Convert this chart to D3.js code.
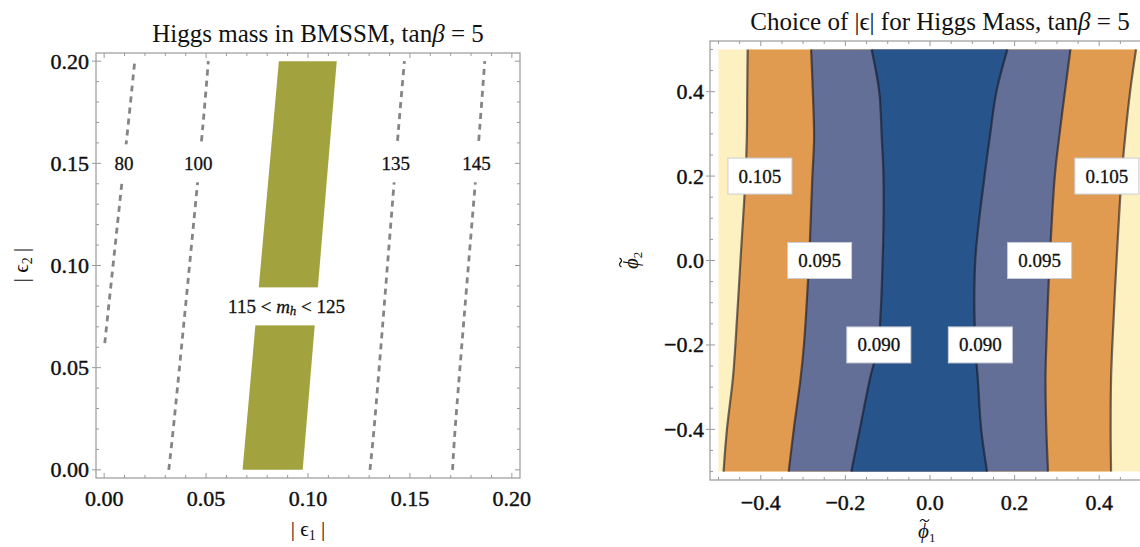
<!DOCTYPE html>
<html>
<head>
<meta charset="utf-8">
<script src="https://cdn.jsdelivr.net/npm/d3@7"></script>
<style>
body { margin: 0; background: #fff; }
svg { display: block; overflow: hidden; }
.title { font-family: "Liberation Serif", serif; font-size: 25px; fill: #111; }
.tick-label { font-family: "Liberation Serif", serif; font-size: 22px; fill: #111; stroke: #111; stroke-width: 0.45; }
.axis-label { font-family: "Liberation Serif", serif; font-size: 21px; fill: #111; }
.contour-label { font-family: "Liberation Serif", serif; font-size: 19px; fill: #111; stroke: #111; stroke-width: 0.3; }
.frame { fill: none; stroke: #9a9a9a; stroke-width: 1.2; }
.tick { stroke: #9a9a9a; stroke-width: 1; }
</style>
</head>
<body>
<div id="chart"></div>
<script>
// ---------- datos panel izquierdo: |eps1| vs |eps2| ----------
const massLevels = ["80", "100", "135", "145"]
// cada contorno: pares [|eps1|, |eps2|]
const contour80 = [[0.0003, 0.062], [0.0087, 0.1405], [0.0117, 0.168], [0.0150, 0.200]]
const contour100 = [[0.0317, 0.0], [0.0338, 0.019], [0.0484, 0.168], [0.0511, 0.200]]
const contour135 = [[0.1304, 0.0], [0.1323, 0.019], [0.1445, 0.168], [0.1473, 0.200]]
const contour145 = [[0.1709, 0.0], [0.1721, 0.019], [0.1843, 0.168], [0.1867, 0.200]]
const massLabelEps1 = [0.0097, 0.0462, 0.1430, 0.1827]
const massLabelEps2 = 0.150
// banda 115 < mh < 125
const band115 = [[0.0679, 0.0], [0.0857, 0.200]]
const band125 = [[0.0974, 0.0], [0.1141, 0.200]]
const bandLabel = [0.0895, 0.080]
const leftTicks = [0, 0.05, 0.10, 0.15, 0.20]
const leftMinor = [0.01, 0.02, 0.03, 0.04, 0.06, 0.07, 0.08, 0.09, 0.11, 0.12, 0.13, 0.14, 0.16, 0.17, 0.18, 0.19]

// ---------- datos panel derecho: contornos de |eps| ----------
const phi2Samples = [0.5, 0.4, 0.29, 0.2, 0.0, -0.2, -0.28, -0.4, -0.5]
const phi1Left105 = [-0.431, -0.432, -0.433, -0.436, -0.448, -0.460, -0.466, -0.480, -0.488]
const phi1Left095 = [-0.281, -0.277, -0.274, -0.278, -0.286, -0.298, -0.306, -0.322, -0.334]
const phi1Left090 = [-0.138, -0.120, -0.114, -0.110, -0.112, -0.123, -0.142, -0.166, -0.186]
const phi1Right090 = [0.183, 0.157, 0.141, 0.129, 0.107, 0.107, 0.113, 0.121, 0.135]
const phi1Right095 = [0.332, 0.319, 0.305, 0.295, 0.283, 0.275, 0.273, 0.275, 0.279]
const phi1Right105 = [0.487, 0.473, 0.461, 0.453, 0.441, 0.431, 0.428, 0.427, 0.428]
const epsLabelText = ["0.105", "0.105", "0.095", "0.095", "0.090", "0.090"]
const epsLabelPhi1 = [-0.402, 0.418, -0.261, 0.259, -0.121, 0.119]
const epsLabelPhi2 = [0.20, 0.20, 0.0, 0.0, -0.20, -0.20]
const rightTicks = [-0.4, -0.2, 0.0, 0.2, 0.4]
const rightMinor = [-0.5, -0.45, -0.35, -0.3, -0.25, -0.15, -0.1, -0.05, 0.05, 0.1, 0.15, 0.25, 0.3, 0.35, 0.45, 0.5]

const bandColors = { yellow: "#fef1c1", orange: "#e09b50", slate: "#646f97", blue: "#27548a" }

// dimensiones
const width = 1140
const height = 547

const svg = d3.select("#chart")
    .append("svg")
    .attr("width", width)
    .attr("height", height)

// ticks del marco (hacia dentro, los mayores del eje y algo hacia fuera)
function frameTicks(g, scale, values, side, pos, inLen, outLen) {
    values.forEach(v => {
        const p = scale(v)
        let x1, y1, x2, y2
        if (side === "left") { x1 = pos - outLen; x2 = pos + inLen; y1 = y2 = p }
        if (side === "right") { x1 = pos + outLen; x2 = pos - inLen; y1 = y2 = p }
        if (side === "bottom") { y1 = pos + outLen; y2 = pos - inLen; x1 = x2 = p }
        if (side === "top") { y1 = pos - outLen; y2 = pos + inLen; x1 = x2 = p }
        g.append("line").attr("class", "tick")
            .attr("x1", x1).attr("y1", y1).attr("x2", x2).attr("y2", y2)
    })
}

// φ con tilde (dibujada como trazo) y subíndice
function phiLabel(g, x, y, sub, rotate) {
    const gg = g.append("g").attr("transform", `translate(${x}, ${y})` + (rotate ? " rotate(-90)" : ""))
    const t = gg.append("text").attr("class", "axis-label")
        .attr("x", -7).attr("y", 0)
    t.append("tspan").attr("font-style", "italic").text("ϕ")
    t.append("tspan").attr("font-size", 13).attr("dy", 4).text(sub)
    gg.append("path")
        .attr("d", "M-5,-16.5 c1.5,-2.5 3,-2.5 4.5,-1 s3,1.5 4.5,-1")
        .attr("fill", "none").attr("stroke", "#111").attr("stroke-width", 1.2)
}

// ================= panel izquierdo =================
const L = { left: 96, right: 520, top: 53, bottom: 478 }
const xL = d3.scaleLinear().domain([-0.004, 0.204]).range([L.left, L.right])
const yL = d3.scaleLinear().domain([-0.004, 0.204]).range([L.bottom, L.top])
const left = svg.append("g").attr("class", "leftPanel")

// banda 115-125
const bandPoly = band115.concat(band125.slice().reverse())
left.append("path")
    .attr("d", d3.line().x(d => xL(d[0])).y(d => yL(d[1]))(bandPoly) + "Z")
    .attr("fill", "#a2a33f")

// contornos discontinuos
const massContours = [contour80, contour100, contour135, contour145]
massContours.forEach(c => {
    left.append("path")
        .attr("d", d3.line().x(d => xL(d[0])).y(d => yL(d[1])).curve(d3.curveCatmullRom)(c))
        .attr("fill", "none")
        .attr("stroke", "#858585")
        .attr("stroke-width", 2.8)
        .attr("stroke-dasharray", "6,5")
})

// etiquetas de los contornos con fondo blanco
massLevels.forEach((lab, i) => {
    const gl = left.append("g")
    const t = gl.append("text").attr("class", "contour-label")
        .attr("x", xL(massLabelEps1[i])).attr("y", yL(massLabelEps2))
        .attr("text-anchor", "middle").attr("dominant-baseline", "central")
        .text(lab)
    const w = t.node().getComputedTextLength()
    gl.insert("rect", "text")
        .attr("x", xL(massLabelEps1[i]) - w / 2 - 4).attr("y", yL(massLabelEps2) - 19)
        .attr("width", w + 8).attr("height", 38).attr("fill", "#fff")
})

const bl = left.append("g")
const bt = bl.append("text").attr("class", "contour-label")
    .attr("x", xL(bandLabel[0])).attr("y", yL(bandLabel[1]))
    .attr("text-anchor", "middle").attr("dominant-baseline", "central")
bt.append("tspan").text("115 < ")
bt.append("tspan").attr("font-style", "italic").text("m")
bt.append("tspan").attr("font-style", "italic").attr("font-size", 13).attr("dy", 4).text("h")
bt.append("tspan").attr("dy", -4).text(" < 125")
const bw = bt.node().getComputedTextLength()
bl.insert("rect", "text")
    .attr("x", xL(bandLabel[0]) - bw / 2 - 4).attr("y", yL(bandLabel[1]) - 19)
    .attr("width", bw + 8).attr("height", 38).attr("fill", "#fff")

// marco y ticks
left.append("rect").attr("class", "frame")
    .attr("x", L.left).attr("y", L.top).attr("width", L.right - L.left).attr("height", L.bottom - L.top)
frameTicks(left, xL, leftTicks, "bottom", L.bottom, 5, 0)
frameTicks(left, xL, leftMinor, "bottom", L.bottom, 3, 0)
frameTicks(left, xL, leftTicks, "top", L.top, 5, 0)
frameTicks(left, xL, leftMinor, "top", L.top, 3, 0)
frameTicks(left, yL, leftTicks, "left", L.left, 5, 4)
frameTicks(left, yL, leftMinor, "left", L.left, 3, 0)
frameTicks(left, yL, leftTicks, "right", L.right, 5, 0)
frameTicks(left, yL, leftMinor, "right", L.right, 3, 0)

const fmt2 = d3.format(".2f")
left.selectAll(".xlab").data(leftTicks).enter().append("text")
    .attr("class", "tick-label")
    .attr("x", d => xL(d)).attr("y", L.bottom + 28)
    .attr("text-anchor", "middle")
    .text(fmt2)
left.selectAll(".ylab").data(leftTicks).enter().append("text")
    .attr("class", "tick-label")
    .attr("x", L.left - 7).attr("y", d => yL(d))
    .attr("text-anchor", "end").attr("dominant-baseline", "central")
    .text(fmt2)

// títulos y ejes
const t1 = left.append("text").attr("class", "title")
    .attr("x", 318).attr("y", 42).attr("text-anchor", "middle")
t1.append("tspan").text("Higgs mass in BMSSM, tan")
t1.append("tspan").attr("font-style", "italic").text("β")
t1.append("tspan").text(" = 5")

const xlabL = left.append("text").attr("class", "axis-label")
    .attr("x", 308).attr("y", 536).attr("text-anchor", "middle")
xlabL.append("tspan").text("| ϵ")
xlabL.append("tspan").attr("font-size", 14).attr("dy", 4).text("1")
xlabL.append("tspan").attr("dy", -4).text(" |")

const ylabL = left.append("text").attr("class", "axis-label")
    .attr("transform", "translate(28, 265) rotate(-90)").attr("text-anchor", "middle")
ylabL.append("tspan").text("| ϵ")
ylabL.append("tspan").attr("font-size", 14).attr("dy", 4).text("2")
ylabL.append("tspan").attr("dy", -4).text(" |")

// ================= panel derecho =================
const R = { left: 710, right: 1150, top: 41, bottom: 480 }
const xR = d3.scaleLinear().domain([-0.52, 0.52]).range([R.left, R.right])
const yR = d3.scaleLinear().domain([-0.52, 0.52]).range([R.bottom, R.top])
const right = svg.append("g").attr("class", "rightPanel")

right.append("rect")
    .attr("x", xR(-0.5)).attr("y", yR(0.5))
    .attr("width", xR(0.5) - xR(-0.5)).attr("height", yR(-0.5) - yR(0.5))
    .attr("fill", bandColors.yellow)

const contourLine = d3.line().x(d => xR(d[0])).y(d => yR(d[1])).curve(d3.curveCatmullRom)
const pts = arr => arr.map((v, i) => [v, phi2Samples[i]])

function region(leftArr, rightArr, color) {
    const a = contourLine(pts(leftArr))
    const b = contourLine(pts(rightArr).reverse())
    right.append("path").attr("d", a + "L" + b.slice(1) + "Z").attr("fill", color)
}
region(phi1Left105, phi1Right105, bandColors.orange)
region(phi1Left095, phi1Right095, bandColors.slate)
region(phi1Left090, phi1Right090, bandColors.blue)

const epsContours = [phi1Left105, phi1Left095, phi1Left090, phi1Right090, phi1Right095, phi1Right105]
epsContours.forEach(c => {
    right.append("path")
        .attr("d", contourLine(pts(c)))
        .attr("fill", "none")
        .attr("stroke", "rgba(20,20,30,0.6)")
        .attr("stroke-width", 2.2)
})

// etiquetas en cajas blancas
epsLabelText.forEach((lab, i) => {
    const cx = xR(epsLabelPhi1[i]), cy = yR(epsLabelPhi2[i])
    right.append("rect")
        .attr("x", cx - 32).attr("y", cy - 18).attr("width", 64).attr("height", 36)
        .attr("fill", "#fff").attr("stroke", "#c9cdd8").attr("stroke-width", 1)
    right.append("text").attr("class", "contour-label")
        .attr("x", cx).attr("y", cy)
        .attr("text-anchor", "middle").attr("dominant-baseline", "central")
        .text(lab)
})

// marco (el borde derecho queda fuera de la imagen)
right.append("rect").attr("class", "frame")
    .attr("x", R.left).attr("y", R.top).attr("width", R.right - R.left).attr("height", R.bottom - R.top)
frameTicks(right, xR, rightTicks, "bottom", R.bottom, 5, 0)
frameTicks(right, xR, rightMinor, "bottom", R.bottom, 3, 0)
frameTicks(right, xR, rightTicks, "top", R.top, 5, 0)
frameTicks(right, xR, rightMinor, "top", R.top, 3, 0)
frameTicks(right, yR, rightTicks, "left", R.left, 5, 4)
frameTicks(right, yR, rightMinor, "left", R.left, 3, 0)

const fmt1 = d3.format(".1f")
right.selectAll(".xlab").data(rightTicks).enter().append("text")
    .attr("class", "tick-label")
    .attr("x", d => xR(d)).attr("y", R.bottom + 30)
    .attr("text-anchor", "middle")
    .text(fmt1)
right.selectAll(".ylab").data(rightTicks).enter().append("text")
    .attr("class", "tick-label")
    .attr("x", R.left - 6).attr("y", d => yR(d))
    .attr("text-anchor", "end").attr("dominant-baseline", "central")
    .text(fmt1)

const t2 = right.append("text").attr("class", "title")
    .attr("x", 940).attr("y", 30).attr("text-anchor", "middle")
t2.append("tspan").text("Choice of |ϵ| for Higgs Mass, tan")
t2.append("tspan").attr("font-style", "italic").text("β")
t2.append("tspan").text(" = 5")

phiLabel(right, 925, 538, "1", false)
phiLabel(right, 638, 262, "2", true)
</script>
</body>
</html>
